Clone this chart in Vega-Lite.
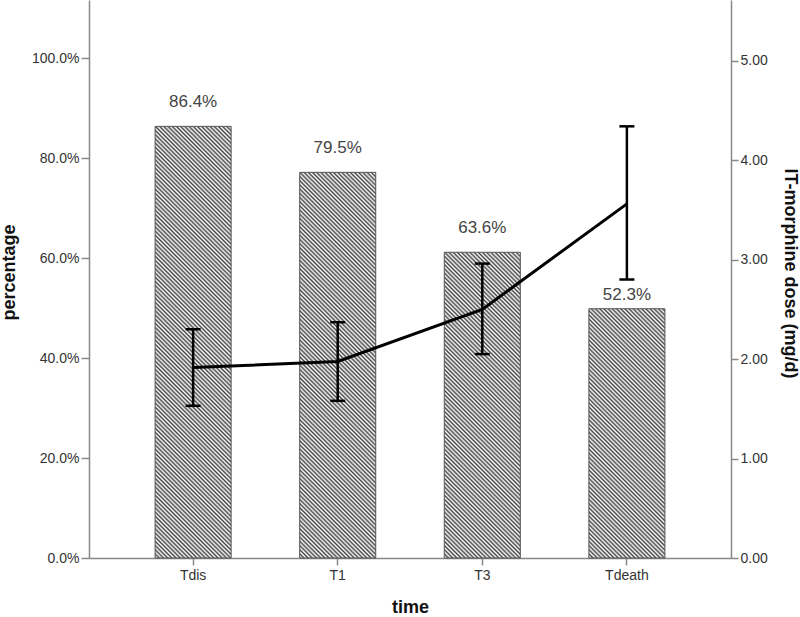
{
"$schema":"https://vega.github.io/schema/vega-lite/v6.json",
"width":642,"height":558,
"autosize":{"type":"none"},
"padding":{"left":89,"top":0,"right":69,"bottom":59},
"background":"white",
"config":{"view":{"stroke":null},"font":"Liberation Sans","axis":{"grid":false,"domainColor":"#888","domainWidth":1.5,"tickColor":"#888","tickWidth":1.5,"labelColor":"#333","labelFontSize":14,"labelFont":"Liberation Sans","titleFont":"Liberation Sans","titleFontSize":18,"titleFontWeight":"bold","titleColor":"#111"}},
"data":{"values":[
{"time":"Tdis","pct":86.4,"label":"86.4%","dose":1.915,"lo":1.53,"hi":2.30},
{"time":"T1","pct":77.2,"label":"79.5%","dose":1.976,"lo":1.58,"hi":2.37},
{"time":"T3","pct":61.2,"label":"63.6%","dose":2.50,"lo":2.05,"hi":2.96},
{"time":"Tdeath","pct":49.9,"label":"52.3%","dose":3.56,"lo":2.80,"hi":4.34}
]},
"encoding":{"x":{"field":"time","type":"nominal","sort":null,"scale":{"paddingInner":0.474,"paddingOuter":0.457},"axis":{"title":"time","labelAngle":0,"tickSize":7,"labelPadding":3,"titleX":321,"titleY":54,"titleBaseline":"alphabetic","titleAlign":"center"}}},
"layer":[
{"layer":[
{"mark":{"type":"bar","strokeWidth":0,"fill":{"gradient":"linear","x1":0,"y1":1,"x2":0.12461,"y2":0.08506,"stops":[
{"offset":0,"color":"#444"},{"offset":0.004,"color":"#fff"},{"offset":0.0081,"color":"#444"},{"offset":0.0121,"color":"#fff"},{"offset":0.0161,"color":"#444"},{"offset":0.0202,"color":"#fff"},{"offset":0.0242,"color":"#444"},{"offset":0.0282,"color":"#fff"},{"offset":0.0323,"color":"#444"},{"offset":0.0363,"color":"#fff"},
{"offset":0.0403,"color":"#444"},{"offset":0.0444,"color":"#fff"},{"offset":0.0484,"color":"#444"},{"offset":0.0524,"color":"#fff"},{"offset":0.0565,"color":"#444"},{"offset":0.0605,"color":"#fff"},{"offset":0.0645,"color":"#444"},{"offset":0.0685,"color":"#fff"},{"offset":0.0726,"color":"#444"},{"offset":0.0766,"color":"#fff"},
{"offset":0.0806,"color":"#444"},{"offset":0.0847,"color":"#fff"},{"offset":0.0887,"color":"#444"},{"offset":0.0927,"color":"#fff"},{"offset":0.0968,"color":"#444"},{"offset":0.1008,"color":"#fff"},{"offset":0.1048,"color":"#444"},{"offset":0.1089,"color":"#fff"},{"offset":0.1129,"color":"#444"},{"offset":0.1169,"color":"#fff"},
{"offset":0.121,"color":"#444"},{"offset":0.125,"color":"#fff"},{"offset":0.129,"color":"#444"},{"offset":0.1331,"color":"#fff"},{"offset":0.1371,"color":"#444"},{"offset":0.1411,"color":"#fff"},{"offset":0.1452,"color":"#444"},{"offset":0.1492,"color":"#fff"},{"offset":0.1532,"color":"#444"},{"offset":0.1573,"color":"#fff"},
{"offset":0.1613,"color":"#444"},{"offset":0.1653,"color":"#fff"},{"offset":0.1694,"color":"#444"},{"offset":0.1734,"color":"#fff"},{"offset":0.1774,"color":"#444"},{"offset":0.1815,"color":"#fff"},{"offset":0.1855,"color":"#444"},{"offset":0.1895,"color":"#fff"},{"offset":0.1935,"color":"#444"},{"offset":0.1976,"color":"#fff"},
{"offset":0.2016,"color":"#444"},{"offset":0.2056,"color":"#fff"},{"offset":0.2097,"color":"#444"},{"offset":0.2137,"color":"#fff"},{"offset":0.2177,"color":"#444"},{"offset":0.2218,"color":"#fff"},{"offset":0.2258,"color":"#444"},{"offset":0.2298,"color":"#fff"},{"offset":0.2339,"color":"#444"},{"offset":0.2379,"color":"#fff"},
{"offset":0.2419,"color":"#444"},{"offset":0.246,"color":"#fff"},{"offset":0.25,"color":"#444"},{"offset":0.254,"color":"#fff"},{"offset":0.2581,"color":"#444"},{"offset":0.2621,"color":"#fff"},{"offset":0.2661,"color":"#444"},{"offset":0.2702,"color":"#fff"},{"offset":0.2742,"color":"#444"},{"offset":0.2782,"color":"#fff"},
{"offset":0.2823,"color":"#444"},{"offset":0.2863,"color":"#fff"},{"offset":0.2903,"color":"#444"},{"offset":0.2944,"color":"#fff"},{"offset":0.2984,"color":"#444"},{"offset":0.3024,"color":"#fff"},{"offset":0.3065,"color":"#444"},{"offset":0.3105,"color":"#fff"},{"offset":0.3145,"color":"#444"},{"offset":0.3185,"color":"#fff"},
{"offset":0.3226,"color":"#444"},{"offset":0.3266,"color":"#fff"},{"offset":0.3306,"color":"#444"},{"offset":0.3347,"color":"#fff"},{"offset":0.3387,"color":"#444"},{"offset":0.3427,"color":"#fff"},{"offset":0.3468,"color":"#444"},{"offset":0.3508,"color":"#fff"},{"offset":0.3548,"color":"#444"},{"offset":0.3589,"color":"#fff"},
{"offset":0.3629,"color":"#444"},{"offset":0.3669,"color":"#fff"},{"offset":0.371,"color":"#444"},{"offset":0.375,"color":"#fff"},{"offset":0.379,"color":"#444"},{"offset":0.3831,"color":"#fff"},{"offset":0.3871,"color":"#444"},{"offset":0.3911,"color":"#fff"},{"offset":0.3952,"color":"#444"},{"offset":0.3992,"color":"#fff"},
{"offset":0.4032,"color":"#444"},{"offset":0.4073,"color":"#fff"},{"offset":0.4113,"color":"#444"},{"offset":0.4153,"color":"#fff"},{"offset":0.4194,"color":"#444"},{"offset":0.4234,"color":"#fff"},{"offset":0.4274,"color":"#444"},{"offset":0.4315,"color":"#fff"},{"offset":0.4355,"color":"#444"},{"offset":0.4395,"color":"#fff"},
{"offset":0.4435,"color":"#444"},{"offset":0.4476,"color":"#fff"},{"offset":0.4516,"color":"#444"},{"offset":0.4556,"color":"#fff"},{"offset":0.4597,"color":"#444"},{"offset":0.4637,"color":"#fff"},{"offset":0.4677,"color":"#444"},{"offset":0.4718,"color":"#fff"},{"offset":0.4758,"color":"#444"},{"offset":0.4798,"color":"#fff"},
{"offset":0.4839,"color":"#444"},{"offset":0.4879,"color":"#fff"},{"offset":0.4919,"color":"#444"},{"offset":0.496,"color":"#fff"},{"offset":0.5,"color":"#444"},{"offset":0.504,"color":"#fff"},{"offset":0.5081,"color":"#444"},{"offset":0.5121,"color":"#fff"},{"offset":0.5161,"color":"#444"},{"offset":0.5202,"color":"#fff"},
{"offset":0.5242,"color":"#444"},{"offset":0.5282,"color":"#fff"},{"offset":0.5323,"color":"#444"},{"offset":0.5363,"color":"#fff"},{"offset":0.5403,"color":"#444"},{"offset":0.5444,"color":"#fff"},{"offset":0.5484,"color":"#444"},{"offset":0.5524,"color":"#fff"},{"offset":0.5565,"color":"#444"},{"offset":0.5605,"color":"#fff"},
{"offset":0.5645,"color":"#444"},{"offset":0.5685,"color":"#fff"},{"offset":0.5726,"color":"#444"},{"offset":0.5766,"color":"#fff"},{"offset":0.5806,"color":"#444"},{"offset":0.5847,"color":"#fff"},{"offset":0.5887,"color":"#444"},{"offset":0.5927,"color":"#fff"},{"offset":0.5968,"color":"#444"},{"offset":0.6008,"color":"#fff"},
{"offset":0.6048,"color":"#444"},{"offset":0.6089,"color":"#fff"},{"offset":0.6129,"color":"#444"},{"offset":0.6169,"color":"#fff"},{"offset":0.621,"color":"#444"},{"offset":0.625,"color":"#fff"},{"offset":0.629,"color":"#444"},{"offset":0.6331,"color":"#fff"},{"offset":0.6371,"color":"#444"},{"offset":0.6411,"color":"#fff"},
{"offset":0.6452,"color":"#444"},{"offset":0.6492,"color":"#fff"},{"offset":0.6532,"color":"#444"},{"offset":0.6573,"color":"#fff"},{"offset":0.6613,"color":"#444"},{"offset":0.6653,"color":"#fff"},{"offset":0.6694,"color":"#444"},{"offset":0.6734,"color":"#fff"},{"offset":0.6774,"color":"#444"},{"offset":0.6815,"color":"#fff"},
{"offset":0.6855,"color":"#444"},{"offset":0.6895,"color":"#fff"},{"offset":0.6935,"color":"#444"},{"offset":0.6976,"color":"#fff"},{"offset":0.7016,"color":"#444"},{"offset":0.7056,"color":"#fff"},{"offset":0.7097,"color":"#444"},{"offset":0.7137,"color":"#fff"},{"offset":0.7177,"color":"#444"},{"offset":0.7218,"color":"#fff"},
{"offset":0.7258,"color":"#444"},{"offset":0.7298,"color":"#fff"},{"offset":0.7339,"color":"#444"},{"offset":0.7379,"color":"#fff"},{"offset":0.7419,"color":"#444"},{"offset":0.746,"color":"#fff"},{"offset":0.75,"color":"#444"},{"offset":0.754,"color":"#fff"},{"offset":0.7581,"color":"#444"},{"offset":0.7621,"color":"#fff"},
{"offset":0.7661,"color":"#444"},{"offset":0.7702,"color":"#fff"},{"offset":0.7742,"color":"#444"},{"offset":0.7782,"color":"#fff"},{"offset":0.7823,"color":"#444"},{"offset":0.7863,"color":"#fff"},{"offset":0.7903,"color":"#444"},{"offset":0.7944,"color":"#fff"},{"offset":0.7984,"color":"#444"},{"offset":0.8024,"color":"#fff"},
{"offset":0.8065,"color":"#444"},{"offset":0.8105,"color":"#fff"},{"offset":0.8145,"color":"#444"},{"offset":0.8185,"color":"#fff"},{"offset":0.8226,"color":"#444"},{"offset":0.8266,"color":"#fff"},{"offset":0.8306,"color":"#444"},{"offset":0.8347,"color":"#fff"},{"offset":0.8387,"color":"#444"},{"offset":0.8427,"color":"#fff"},
{"offset":0.8468,"color":"#444"},{"offset":0.8508,"color":"#fff"},{"offset":0.8548,"color":"#444"},{"offset":0.8589,"color":"#fff"},{"offset":0.8629,"color":"#444"},{"offset":0.8669,"color":"#fff"},{"offset":0.871,"color":"#444"},{"offset":0.875,"color":"#fff"},{"offset":0.879,"color":"#444"},{"offset":0.8831,"color":"#fff"},
{"offset":0.8871,"color":"#444"},{"offset":0.8911,"color":"#fff"},{"offset":0.8952,"color":"#444"},{"offset":0.8992,"color":"#fff"},{"offset":0.9032,"color":"#444"},{"offset":0.9073,"color":"#fff"},{"offset":0.9113,"color":"#444"},{"offset":0.9153,"color":"#fff"},{"offset":0.9194,"color":"#444"},{"offset":0.9234,"color":"#fff"},
{"offset":0.9274,"color":"#444"},{"offset":0.9315,"color":"#fff"},{"offset":0.9355,"color":"#444"},{"offset":0.9395,"color":"#fff"},{"offset":0.9435,"color":"#444"},{"offset":0.9476,"color":"#fff"},{"offset":0.9516,"color":"#444"},{"offset":0.9556,"color":"#fff"},{"offset":0.9597,"color":"#444"},{"offset":0.9637,"color":"#fff"},
{"offset":0.9677,"color":"#444"},{"offset":0.9718,"color":"#fff"},{"offset":0.9758,"color":"#444"},{"offset":0.9798,"color":"#fff"},{"offset":0.9839,"color":"#444"},{"offset":0.9879,"color":"#fff"},{"offset":0.9919,"color":"#444"},{"offset":0.996,"color":"#fff"},{"offset":1,"color":"#444"}
]}},"encoding":{"y":{"datum":111.7,"type":"quantitative","scale":{"domain":[0,111.7],"nice":false},"axis":{"orient":"left","title":"percentage","values":[0,20,40,60,80,100],"labelExpr":"format(datum.value,'.1f')+'%'","tickSize":8,"labelPadding":2,"titleAngle":-90,"titleX":-80,"titleY":272,"titleAlign":"center","titleBaseline":"middle"}}}},
{"mark":{"type":"bar","fill":"white","strokeWidth":0,"width":{"band":1.04}},"encoding":{"y":{"field":"pct","type":"quantitative","scale":{"domain":[0,111.7],"nice":false},"axis":{"orient":"left","title":"percentage","values":[0,20,40,60,80,100],"labelExpr":"format(datum.value,'.1f')+'%'","tickSize":8,"labelPadding":2,"titleAngle":-90,"titleX":-80,"titleY":272,"titleAlign":"center","titleBaseline":"middle"}},"y2":{"datum":111.7}}},
{"mark":{"type":"bar","fill":"white","fillOpacity":0,"stroke":"#555","strokeWidth":1},"encoding":{"y":{"field":"pct","type":"quantitative","scale":{"domain":[0,111.7],"nice":false},"axis":{"orient":"left","title":"percentage","values":[0,20,40,60,80,100],"labelExpr":"format(datum.value,'.1f')+'%'","tickSize":8,"labelPadding":2,"titleAngle":-90,"titleX":-80,"titleY":272,"titleAlign":"center","titleBaseline":"middle"}}}},
{"transform":[{"filter":"datum.time !== 'Tdeath'"}],"mark":{"type":"text","dy":-24,"fontSize":17,"fill":"#444","font":"Liberation Sans"},"encoding":{"y":{"field":"pct","type":"quantitative","scale":{"domain":[0,111.7],"nice":false},"axis":{"orient":"left","title":"percentage","values":[0,20,40,60,80,100],"labelExpr":"format(datum.value,'.1f')+'%'","tickSize":8,"labelPadding":2,"titleAngle":-90,"titleX":-80,"titleY":272,"titleAlign":"center","titleBaseline":"middle"}},"text":{"field":"label"}}},
{"transform":[{"filter":"datum.time === 'Tdeath'"}],"mark":{"type":"text","dy":-14,"fontSize":17,"fill":"#444","font":"Liberation Sans"},"encoding":{"y":{"field":"pct","type":"quantitative","scale":{"domain":[0,111.7],"nice":false},"axis":{"orient":"left","title":"percentage","values":[0,20,40,60,80,100],"labelExpr":"format(datum.value,'.1f')+'%'","tickSize":8,"labelPadding":2,"titleAngle":-90,"titleX":-80,"titleY":272,"titleAlign":"center","titleBaseline":"middle"}},"text":{"field":"label"}}}
]},
{"layer":[
{"mark":{"type":"line","color":"#000","strokeWidth":3},"encoding":{"y":{"field":"dose","type":"quantitative","scale":{"domain":[0,5.61],"nice":false},"axis":{"orient":"right","title":"IT-morphine dose (mg/d)","values":[0,1,2,3,4,5],"format":".2f","tickSize":7,"labelPadding":2,"titleAngle":90,"titleX":58,"titleY":273,"titleAlign":"center","titleBaseline":"middle"}}}},
{"mark":{"type":"rule","color":"#000","strokeWidth":2.5},"encoding":{"y":{"field":"lo","type":"quantitative","scale":{"domain":[0,5.61],"nice":false},"axis":{"orient":"right","title":"IT-morphine dose (mg/d)","values":[0,1,2,3,4,5],"format":".2f","tickSize":7,"labelPadding":2,"titleAngle":90,"titleX":58,"titleY":273,"titleAlign":"center","titleBaseline":"middle"}},"y2":{"field":"hi"}}},
{"mark":{"type":"tick","color":"#000","size":15,"thickness":2.5,"opacity":1},"encoding":{"y":{"field":"lo","type":"quantitative","scale":{"domain":[0,5.61],"nice":false},"axis":{"orient":"right","title":"IT-morphine dose (mg/d)","values":[0,1,2,3,4,5],"format":".2f","tickSize":7,"labelPadding":2,"titleAngle":90,"titleX":58,"titleY":273,"titleAlign":"center","titleBaseline":"middle"}}}},
{"mark":{"type":"tick","color":"#000","size":15,"thickness":2.5,"opacity":1},"encoding":{"y":{"field":"hi","type":"quantitative","scale":{"domain":[0,5.61],"nice":false},"axis":{"orient":"right","title":"IT-morphine dose (mg/d)","values":[0,1,2,3,4,5],"format":".2f","tickSize":7,"labelPadding":2,"titleAngle":90,"titleX":58,"titleY":273,"titleAlign":"center","titleBaseline":"middle"}}}}
]}
],
"resolve":{"scale":{"y":"independent"}}
}
